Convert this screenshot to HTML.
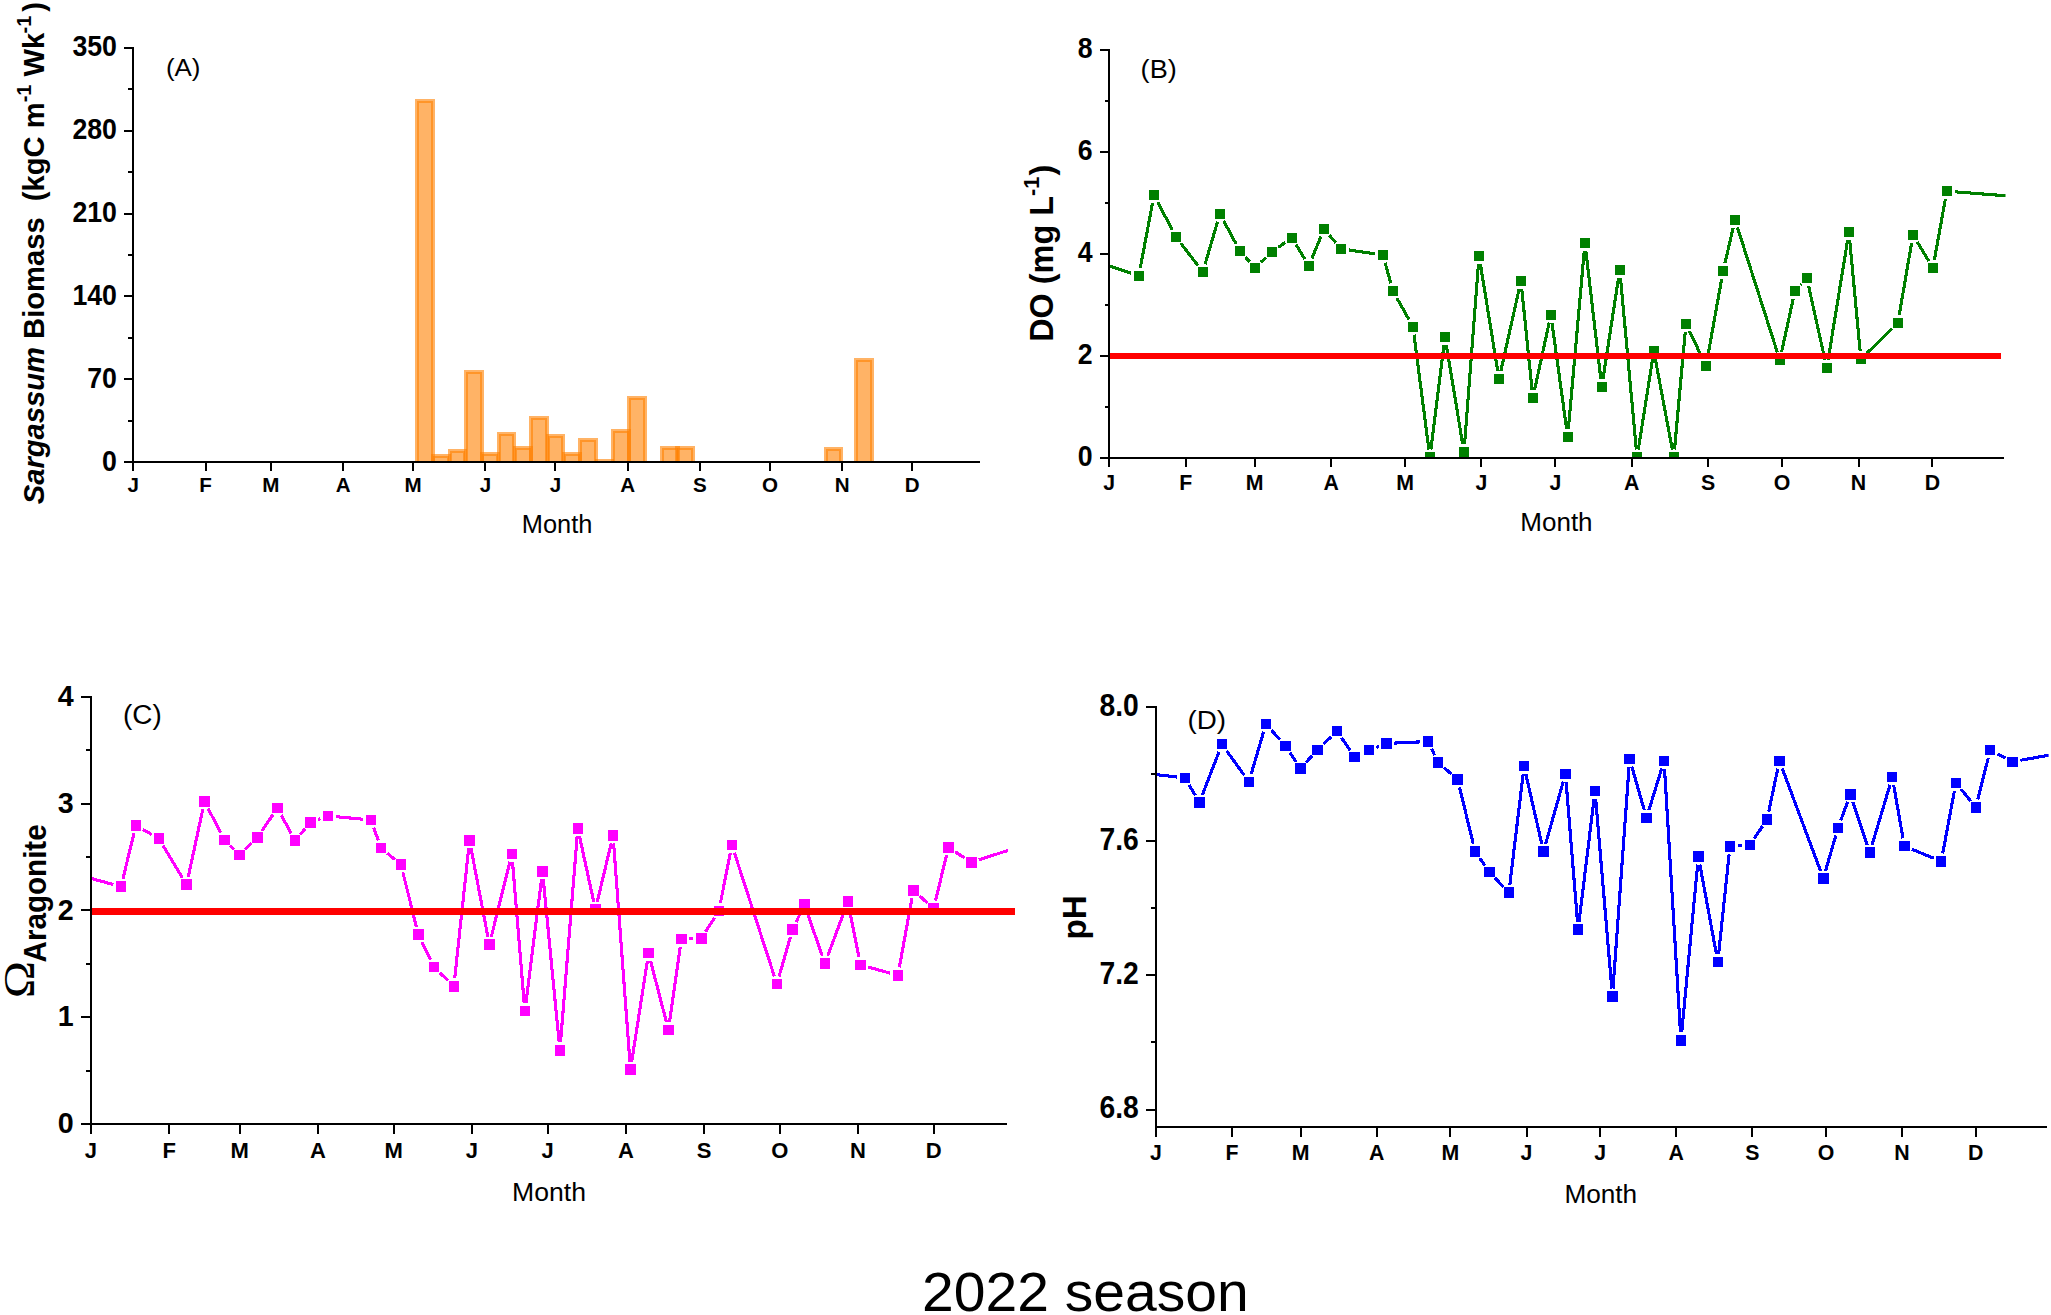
<!DOCTYPE html>
<html lang="en"><head><meta charset="utf-8"><title>2022 season</title>
<style>html,body{margin:0;padding:0;background:#fff}body{width:2051px;height:1315px;overflow:hidden}svg{display:block}</style>
</head><body>
<svg width="2051" height="1315" viewBox="0 0 2051 1315" role="img" aria-label="2022 season: Sargassum biomass, dissolved oxygen, aragonite saturation and pH by month">
<rect width="2051" height="1315" fill="#fff"/>
<clipPath id="ca"><rect x="133" y="40" width="860" height="422"/></clipPath>
<g clip-path="url(#ca)" fill="rgb(255,128,0)" fill-opacity="0.6" stroke="rgb(255,128,0)" stroke-opacity="0.6" stroke-width="4" shape-rendering="crispEdges">
<rect x="417" y="101" width="15.7" height="369"/>
<rect x="433.33" y="456.4" width="15.7" height="13.6"/>
<rect x="449.66" y="451.2" width="15.7" height="18.8"/>
<rect x="465.99" y="372.4" width="15.7" height="97.6"/>
<rect x="482.32" y="454.1" width="15.7" height="15.9"/>
<rect x="498.65" y="434.3" width="15.7" height="35.7"/>
<rect x="514.98" y="447.8" width="15.7" height="22.2"/>
<rect x="531.31" y="418.4" width="15.7" height="51.6"/>
<rect x="547.64" y="435.6" width="15.7" height="34.4"/>
<rect x="563.97" y="454.3" width="15.7" height="15.7"/>
<rect x="580.3" y="439.5" width="15.7" height="30.5"/>
<rect x="596.63" y="460.6" width="15.7" height="9.4"/>
<rect x="612.96" y="430.5" width="15.7" height="39.5"/>
<rect x="629.29" y="398.2" width="15.7" height="71.8"/>
<rect x="661.95" y="448.4" width="15.7" height="21.6"/>
<rect x="677.05" y="448.4" width="15.7" height="21.6"/>
<rect x="825.65" y="449.2" width="15.7" height="20.8"/>
<rect x="856.05" y="360.4" width="15.7" height="109.6"/>
</g>
<g stroke="#000" stroke-width="2" fill="none" shape-rendering="crispEdges"><path d="M133 46.9 V463" /><path d="M133 462 H980" /><path d="M123.7 462 H133" /><path d="M123.7 379.18 H133" /><path d="M123.7 296.36 H133" /><path d="M123.7 213.54 H133" /><path d="M123.7 130.72 H133" /><path d="M123.7 47.9 H133" /><path d="M128.4 420.59 H133" /><path d="M128.4 337.77 H133" /><path d="M128.4 254.95 H133" /><path d="M128.4 172.13 H133" /><path d="M128.4 89.31 H133" /><path d="M133.34 462 V471.4" /><path d="M205.63 462 V471.4" /><path d="M270.92 462 V471.4" /><path d="M343.2 462 V471.4" /><path d="M413.16 462 V471.4" /><path d="M485.44 462 V471.4" /><path d="M555.4 462 V471.4" /><path d="M627.68 462 V471.4" /><path d="M699.97 462 V471.4" /><path d="M769.92 462 V471.4" /><path d="M842.21 462 V471.4" /><path d="M912.16 462 V471.4" /></g>
<g font-family="'Liberation Sans', sans-serif" font-weight="bold" font-size="26.7" text-anchor="end" fill="#000"><text transform="translate(116.9 470.57) scale(1 1.090)">0</text><text transform="translate(116.9 387.75) scale(1 1.090)">70</text><text transform="translate(116.9 304.93) scale(1 1.090)">140</text><text transform="translate(116.9 222.11) scale(1 1.090)">210</text><text transform="translate(116.9 139.29) scale(1 1.090)">280</text><text transform="translate(116.9 56.47) scale(1 1.090)">350</text></g>
<g font-family="'Liberation Sans', sans-serif" font-weight="bold" font-size="20.6" text-anchor="middle" fill="#000"><text x="133.34" y="492.3">J</text><text x="205.63" y="492.3">F</text><text x="270.92" y="492.3">M</text><text x="343.2" y="492.3">A</text><text x="413.16" y="492.3">M</text><text x="485.44" y="492.3">J</text><text x="555.4" y="492.3">J</text><text x="627.68" y="492.3">A</text><text x="699.97" y="492.3">S</text><text x="769.92" y="492.3">O</text><text x="842.21" y="492.3">N</text><text x="912.16" y="492.3">D</text></g>
<text transform="translate(165.9 75.85) scale(1.0550 1)" font-family="'Liberation Sans', sans-serif" font-size="24.6" font-weight="normal" text-anchor="start" fill="#000">(A)</text>
<text x="557.1" y="532.6" font-family="'Liberation Sans', sans-serif" font-size="25.4" font-weight="normal" text-anchor="middle" fill="#000">Month</text>
<text transform="translate(43.65 253.1) rotate(-90) scale(0.9790 1)" font-family="'Liberation Sans', sans-serif" font-size="29.8" font-weight="bold" text-anchor="middle" fill="#000"><tspan font-style="italic">Sargassum</tspan> Biomass&#160;&#160;(kgC m<tspan font-size="20.5" dy="-12.4">-1</tspan><tspan dy="12.4"> Wk</tspan><tspan font-size="20.5" dy="-12.4" dx="-0.8">-1</tspan><tspan dy="12.4" dx="4">)</tspan></text>
<clipPath id="cb"><rect x="1109" y="40" width="896.5" height="418"/></clipPath>
<g clip-path="url(#cb)">
<path d="M1109 265.8L1131.21 273.29M1140.28 267.99L1152.58 202.79M1157.75 202.03L1172.15 229.78M1180.73 243.21L1197.96 265.48M1205.12 264.14L1217.63 221.56M1223.69 220.93L1236.09 243.89M1245.23 256.88L1249.65 261.82M1260.83 262.3L1266 257.45M1278.36 247.34L1285.33 242.39M1296 244.6L1304.73 259M1311.91 258.44L1320.94 236.39M1329.18 235.05L1335.78 242.75M1348.91 249.98L1375.03 253.8M1385.09 262.67L1390.8 283.23M1396.85 297.93L1409.05 319.77M1413.99 334.68L1428.87 449.51M1430.89 449.51L1444 344.9M1446.29 344.85L1462.67 444.2M1464.59 444.12L1478.45 263.88M1480.35 263.8L1497.75 371.17M1500.77 371.26L1519.19 288.78M1521.75 288.93L1532.05 389.85M1534.56 389.99L1549.18 322.63M1551.97 322.73L1566.58 428.83M1568.38 428.79L1584.24 250.97M1585.88 250.95L1600.82 378.91M1602.97 378.95L1618.54 277.93M1620.49 277.99L1636.31 449.48M1638.29 449.54L1652.59 358.98M1655.31 358.94L1672.32 449.58M1674.52 449.48L1685.24 331.78M1689.41 331.03L1702.62 358.71M1707.48 358.05L1721.69 278.87M1724.92 263.2L1733.21 227.67M1737.47 227.5L1777.38 352.46M1781.52 352.27L1793.2 298.77M1800.34 285.08L1801.41 283.93M1808.57 285.86L1825.07 360.31M1828.08 360.22L1847.66 239.95M1849.69 240.01L1860.13 351.14M1866.61 353.53L1892.14 328.67M1899.22 315.2L1911.61 242.86M1917.12 241.81L1928.77 260.99M1934.35 259.96L1945.37 199.03M1954.77 191.78L2006 195.8" stroke="#008000" stroke-width="3.1" fill="none" shape-rendering="crispEdges"/>
<path d="M1133.79 270.85h10v10h-10zM1149.06 189.93h10v10h-10zM1170.83 231.88h10v10h-10zM1197.86 266.81h10v10h-10zM1214.88 208.89h10v10h-10zM1234.89 245.92h10v10h-10zM1249.99 262.77h10v10h-10zM1266.84 246.98h10v10h-10zM1286.85 232.76h10v10h-10zM1303.87 260.84h10v10h-10zM1318.97 223.98h10v10h-10zM1335.99 243.82h10v10h-10zM1377.94 249.96h10v10h-10zM1387.95 285.94h10v10h-10zM1407.96 321.75h10v10h-10zM1424.9 452.45h10v10h-10zM1439.99 331.96h10v10h-10zM1458.98 447.09h10v10h-10zM1474.07 250.9h10v10h-10zM1494.03 374.07h10v10h-10zM1515.93 275.97h10v10h-10zM1527.86 392.81h10v10h-10zM1545.87 309.81h10v10h-10zM1562.67 431.76h10v10h-10zM1579.95 238h10v10h-10zM1596.75 381.86h10v10h-10zM1614.76 265.02h10v10h-10zM1632.04 452.45h10v10h-10zM1648.84 346.08h10v10h-10zM1668.8 452.45h10v10h-10zM1680.97 318.81h10v10h-10zM1701.07 360.92h10v10h-10zM1718.1 265.99h10v10h-10zM1730.03 214.88h10v10h-10zM1774.82 355.08h10v10h-10zM1789.91 285.95h10v10h-10zM1801.84 273.05h10v10h-10zM1821.8 363.12h10v10h-10zM1843.95 227.05h10v10h-10zM1855.87 354.11h10v10h-10zM1892.87 318.08h10v10h-10zM1907.96 229.97h10v10h-10zM1927.92 262.83h10v10h-10zM1941.8 186.16h10v10h-10z" fill="#008000" shape-rendering="crispEdges"/>
</g>
<rect x="1109" y="352.8" width="892" height="6.2" fill="#ff0000" shape-rendering="crispEdges"/>
<g stroke="#000" stroke-width="2" fill="none" shape-rendering="crispEdges"><path d="M1109 48.96 V459" /><path d="M1099.9 458 H2004" /><path d="M1099.9 458 H1109" /><path d="M1099.9 355.99 H1109" /><path d="M1099.9 253.98 H1109" /><path d="M1099.9 151.97 H1109" /><path d="M1099.9 49.96 H1109" /><path d="M1104.7 407 H1109" /><path d="M1104.7 304.99 H1109" /><path d="M1104.7 202.97 H1109" /><path d="M1104.7 100.96 H1109" /><path d="M1109.28 458 V466.9" /><path d="M1185.69 458 V466.9" /><path d="M1254.7 458 V466.9" /><path d="M1331.1 458 V466.9" /><path d="M1405.04 458 V466.9" /><path d="M1481.45 458 V466.9" /><path d="M1555.39 458 V466.9" /><path d="M1631.8 458 V466.9" /><path d="M1708.2 458 V466.9" /><path d="M1782.14 458 V466.9" /><path d="M1858.55 458 V466.9" /><path d="M1932.49 458 V466.9" /></g>
<g font-family="'Liberation Sans', sans-serif" font-weight="bold" font-size="26.7" text-anchor="end" fill="#000"><text transform="translate(1092.7 466.3) scale(1 1.090)">0</text><text transform="translate(1092.7 364.29) scale(1 1.090)">2</text><text transform="translate(1092.7 262.28) scale(1 1.090)">4</text><text transform="translate(1092.7 160.27) scale(1 1.090)">6</text><text transform="translate(1092.7 58.26) scale(1 1.090)">8</text></g>
<g font-family="'Liberation Sans', sans-serif" font-weight="bold" font-size="21.3" text-anchor="middle" fill="#000"><text x="1109.28" y="489.6">J</text><text x="1185.69" y="489.6">F</text><text x="1254.7" y="489.6">M</text><text x="1331.1" y="489.6">A</text><text x="1405.04" y="489.6">M</text><text x="1481.45" y="489.6">J</text><text x="1555.39" y="489.6">J</text><text x="1631.8" y="489.6">A</text><text x="1708.2" y="489.6">S</text><text x="1782.14" y="489.6">O</text><text x="1858.55" y="489.6">N</text><text x="1932.49" y="489.6">D</text></g>
<text transform="translate(1140.6 77.65) scale(1.0350 1)" font-family="'Liberation Sans', sans-serif" font-size="26.2" font-weight="normal" text-anchor="start" fill="#000">(B)</text>
<text x="1556.45" y="530.75" font-family="'Liberation Sans', sans-serif" font-size="26" font-weight="normal" text-anchor="middle" fill="#000">Month</text>
<text transform="translate(1053.05 253.3) rotate(-90) scale(0.9830 1)" font-family="'Liberation Sans', sans-serif" font-size="33" font-weight="bold" text-anchor="middle" fill="#000">DO (mg L<tspan font-size="22" dy="-14.3">-1</tspan><tspan dy="14.3" dx="1.2">)</tspan></text>
<clipPath id="cc"><rect x="91" y="680" width="917" height="443.9"/></clipPath>
<g clip-path="url(#cc)">
<path d="M91 878.42L113.28 884.51M122.89 878.85L133.99 833.32M142.86 829.47L151.83 834.51M162.93 845.29L182.46 877.76M188.27 876.79L202.8 809.28M208.16 808.56L220.72 832.83M230.05 845.6L233.8 849.34M245.17 849.4L251.65 843.03M261.88 830.83L272.91 814.75M281.26 815.18L291.18 833.41M300.25 834.4L305.32 828.58M318.02 819.64L320.34 818.74M335.76 816.62L363.01 819.26M373.67 827.56L378.3 840.44M387.16 853.09L394.77 859.42M402.85 872.3L416.44 926.96M421.84 941.92L430.54 959.93M439.77 972.69L448.11 980.75M454.72 978.36L468.67 848.3M471.01 848.21L487.87 936.78M491.29 936.88L509.93 861.78M512.51 861.99L524.2 1003.26M525.86 1003.29L541.5 879.38M543.28 879.4L559.14 1042.29M560.56 1042.28L577.14 836.42M579.48 836.26L593.72 901.77M597.27 901.8L611.2 843.28M613.65 843.48L629.88 1061.68M631.7 1061.75L647.33 961.15M650.57 960.98L666.39 1022.01M669.54 1021.83L680.27 947.05M689.41 938.86L693.26 938.73M705.56 931.73L714.57 917.65M720.43 903.06L730.34 852.83M734.35 852.59L774.41 976.5M779.07 976.42L790.33 937.12M796 922.22L800.96 911.94M807.07 912.28L822.3 955.83M827.73 955.88L845.09 909.15M849.43 909.49L858.88 957.08M868.15 967.06L890.21 973.16M899.35 967.42L911.93 898.27M919.33 895.72L927.67 903.16M935.52 900.71L946.53 855.18M955.11 851.78L964.65 858.02M978.95 859.91L1008 850.4" stroke="#ff00ff" stroke-width="3.1" fill="none" shape-rendering="crispEdges"/>
<path d="M115.74 881.37h10.5v10.5h-10.5zM130.63 820.3h10.5v10.5h-10.5zM153.56 833.18h10.5v10.5h-10.5zM181.33 879.36h10.5v10.5h-10.5zM199.24 796.21h10.5v10.5h-10.5zM219.15 834.69h10.5v10.5h-10.5zM234.21 849.75h10.5v10.5h-10.5zM252.11 832.18h10.5v10.5h-10.5zM272.19 802.9h10.5v10.5h-10.5zM289.76 835.19h10.5v10.5h-10.5zM305.32 817.29h10.5v10.5h-10.5zM322.55 810.6h10.5v10.5h-10.5zM365.72 814.78h10.5v10.5h-10.5zM375.76 842.72h10.5v10.5h-10.5zM395.67 859.29h10.5v10.5h-10.5zM413.12 929.47h10.5v10.5h-10.5zM428.77 961.88h10.5v10.5h-10.5zM448.61 981.06h10.5v10.5h-10.5zM464.27 835.1h10.5v10.5h-10.5zM484.11 939.39h10.5v10.5h-10.5zM506.6 848.77h10.5v10.5h-10.5zM519.61 1005.98h10.5v10.5h-10.5zM537.25 866.19h10.5v10.5h-10.5zM554.67 1045.01h10.5v10.5h-10.5zM572.53 823.19h10.5v10.5h-10.5zM590.17 904.33h10.5v10.5h-10.5zM607.81 830.25h10.5v10.5h-10.5zM625.23 1064.41h10.5v10.5h-10.5zM643.31 947.99h10.5v10.5h-10.5zM663.15 1024.5h10.5v10.5h-10.5zM676.16 933.88h10.5v10.5h-10.5zM696 933.22h10.5v10.5h-10.5zM713.63 905.66h10.5v10.5h-10.5zM726.64 839.73h10.5v10.5h-10.5zM771.62 978.86h10.5v10.5h-10.5zM787.28 924.18h10.5v10.5h-10.5zM799.18 899.48h10.5v10.5h-10.5zM819.69 958.13h10.5v10.5h-10.5zM842.62 896.4h10.5v10.5h-10.5zM855.19 959.68h10.5v10.5h-10.5zM892.67 970.04h10.5v10.5h-10.5zM908.11 885.15h10.5v10.5h-10.5zM928.39 903.23h10.5v10.5h-10.5zM943.16 842.16h10.5v10.5h-10.5zM966.1 857.15h10.5v10.5h-10.5z" fill="#ff00ff" shape-rendering="crispEdges"/>
</g>
<rect x="91" y="908.1" width="924" height="6.6" fill="#ff0000" shape-rendering="crispEdges"/>
<g stroke="#000" stroke-width="2" fill="none" shape-rendering="crispEdges"><path d="M91 696.08 V1124.9" /><path d="M81.1 1123.9 H1006.8" /><path d="M81.1 1123.9 H91" /><path d="M81.1 1017.2 H91" /><path d="M81.1 910.49 H91" /><path d="M81.1 803.79 H91" /><path d="M81.1 697.08 H91" /><path d="M86.1 1070.55 H91" /><path d="M86.1 963.84 H91" /><path d="M86.1 857.14 H91" /><path d="M86.1 750.43 H91" /><path d="M90.9 1123.9 V1133.9" /><path d="M169.13 1123.9 V1133.9" /><path d="M239.78 1123.9 V1133.9" /><path d="M318.01 1123.9 V1133.9" /><path d="M393.71 1123.9 V1133.9" /><path d="M471.93 1123.9 V1133.9" /><path d="M547.64 1123.9 V1133.9" /><path d="M625.86 1123.9 V1133.9" /><path d="M704.09 1123.9 V1133.9" /><path d="M779.79 1123.9 V1133.9" /><path d="M858.01 1123.9 V1133.9" /><path d="M933.72 1123.9 V1133.9" /></g>
<g font-family="'Liberation Sans', sans-serif" font-weight="bold" font-size="28.7" text-anchor="end" fill="#000"><text transform="translate(73.7 1133.1) scale(1 1.045)">0</text><text transform="translate(73.7 1026.39) scale(1 1.045)">1</text><text transform="translate(73.7 919.69) scale(1 1.045)">2</text><text transform="translate(73.7 812.99) scale(1 1.045)">3</text><text transform="translate(73.7 706.28) scale(1 1.045)">4</text></g>
<g font-family="'Liberation Sans', sans-serif" font-weight="bold" font-size="22" text-anchor="middle" fill="#000"><text x="90.9" y="1157.75">J</text><text x="169.13" y="1157.75">F</text><text x="239.78" y="1157.75">M</text><text x="318.01" y="1157.75">A</text><text x="393.71" y="1157.75">M</text><text x="471.93" y="1157.75">J</text><text x="547.64" y="1157.75">J</text><text x="625.86" y="1157.75">A</text><text x="704.09" y="1157.75">S</text><text x="779.79" y="1157.75">O</text><text x="858.01" y="1157.75">N</text><text x="933.72" y="1157.75">D</text></g>
<text transform="translate(123 724.3) scale(1.0400 1)" font-family="'Liberation Sans', sans-serif" font-size="26.8" font-weight="normal" text-anchor="start" fill="#000">(C)</text>
<text x="549.05" y="1200.55" font-family="'Liberation Sans', sans-serif" font-size="26.6" font-weight="normal" text-anchor="middle" fill="#000">Month</text>
<text transform="translate(33.95 998.3) rotate(-90) scale(1.12 1)" font-family="'Liberation Serif', serif" font-size="45" fill="#000">&#937;</text>
<text transform="translate(45.85 962.4) rotate(-90) scale(1 1.065)" font-family="'Liberation Sans', sans-serif" font-weight="bold" font-size="29.6" fill="#000">Aragonite</text>
<clipPath id="cd"><rect x="1155.9" y="690" width="892.7" height="436.9"/></clipPath>
<g clip-path="url(#cd)">
<path d="M1155.9 774.6L1176.99 777.05M1189.02 784.85L1195.37 795.58M1202.33 795L1219.03 751.74M1226.59 750.76L1244.22 775.22M1251.16 774.04L1263.64 731.67M1271.23 729.96L1280.08 739.86M1289.85 752.48L1296.09 761.8M1305.91 762.53L1312.16 755.65M1323.33 744.22L1331.25 736.68M1341.53 737.79L1350.02 750.29M1376.45 747.34L1378.98 746.37M1394.43 743.1L1420.11 741.89M1431.52 748.74L1434.53 755.1M1443.98 767.59L1451.62 774.25M1459.53 787.28L1473.22 843.78M1479.68 858.12L1484.87 865.55M1494.95 877.92L1503.38 886.84M1509.83 884.71L1523.12 774.22M1525.85 774.08L1541.72 843.76M1545.67 843.86L1563.27 781.57M1566.1 781.85L1577.47 921.55M1579.08 921.58L1594.03 798.99M1595.68 799.02L1611.78 988.54M1613.03 988.53L1629.05 766.94M1631.83 766.65L1644.3 810.09M1648.87 810.14L1661.71 768.56M1664.55 768.9L1680.47 1032.36M1681.71 1032.38L1697.64 864.55M1699.85 864.46L1716.37 953.97M1718.65 953.88L1729.08 854.41M1737.9 845.9L1741.92 845.61M1754.35 838.41L1762.61 826.09M1768.72 811.62L1777.79 768.74M1782.24 768.41L1820.55 871.04M1825.56 870.85L1835.75 835.57M1840.75 820.38L1847.58 801.9M1852.89 801.99L1867.24 845.06M1872.06 844.98L1890 784.9M1893.67 785.11L1903 838.3M1911.78 849.23L1933.85 858.32M1942.71 853.51L1954.42 790.73M1960.94 789.06L1970.8 801.15M1977.81 799.58L1988.26 757.98M1997.31 753.9L2005.34 758.07M2020.31 760.33L2053 754.4" stroke="#0000ff" stroke-width="3.1" fill="none" shape-rendering="crispEdges"/>
<path d="M1179.74 772.77h10.4v10.4h-10.4zM1194.25 797.26h10.4v10.4h-10.4zM1216.71 739.07h10.4v10.4h-10.4zM1243.7 776.51h10.4v10.4h-10.4zM1260.7 718.79h10.4v10.4h-10.4zM1280.2 740.63h10.4v10.4h-10.4zM1295.34 763.25h10.4v10.4h-10.4zM1312.34 744.53h10.4v10.4h-10.4zM1331.84 725.97h10.4v10.4h-10.4zM1349.31 751.71h10.4v10.4h-10.4zM1363.79 745.03h10.4v10.4h-10.4zM1381.24 738.28h10.4v10.4h-10.4zM1422.9 736.31h10.4v10.4h-10.4zM1432.75 757.14h10.4v10.4h-10.4zM1452.45 774.3h10.4v10.4h-10.4zM1469.9 846.36h10.4v10.4h-10.4zM1484.26 866.9h10.4v10.4h-10.4zM1503.68 887.45h10.4v10.4h-10.4zM1518.87 761.08h10.4v10.4h-10.4zM1538.3 846.36h10.4v10.4h-10.4zM1560.25 768.68h10.4v10.4h-10.4zM1572.92 924.32h10.4v10.4h-10.4zM1589.8 785.84h10.4v10.4h-10.4zM1607.25 991.31h10.4v10.4h-10.4zM1624.42 753.76h10.4v10.4h-10.4zM1641.31 812.58h10.4v10.4h-10.4zM1658.87 755.71h10.4v10.4h-10.4zM1675.75 1035.14h10.4v10.4h-10.4zM1693.2 851.39h10.4v10.4h-10.4zM1712.62 956.63h10.4v10.4h-10.4zM1724.72 841.26h10.4v10.4h-10.4zM1744.7 839.85h10.4v10.4h-10.4zM1761.86 814.24h10.4v10.4h-10.4zM1774.24 755.71h10.4v10.4h-10.4zM1818.14 873.34h10.4v10.4h-10.4zM1832.78 822.69h10.4v10.4h-10.4zM1845.16 789.2h10.4v10.4h-10.4zM1864.57 847.45h10.4v10.4h-10.4zM1887.09 772.03h10.4v10.4h-10.4zM1899.19 840.98h10.4v10.4h-10.4zM1936.05 856.17h10.4v10.4h-10.4zM1950.68 777.66h10.4v10.4h-10.4zM1970.66 802.14h10.4v10.4h-10.4zM1985.01 745.02h10.4v10.4h-10.4zM2007.24 756.56h10.4v10.4h-10.4z" fill="#0000ff" shape-rendering="crispEdges"/>
</g>
<g stroke="#000" stroke-width="2" fill="none" shape-rendering="crispEdges"><path d="M1155.9 705.9 V1127.9" /><path d="M1155.9 1126.9 H2046.9" /><path d="M1146 706.9 H1155.9" /><path d="M1146 841.1 H1155.9" /><path d="M1146 975.3 H1155.9" /><path d="M1146 1109.5 H1155.9" /><path d="M1151.1 774 H1155.9" /><path d="M1151.1 908.2 H1155.9" /><path d="M1151.1 1042.4 H1155.9" /><path d="M1155.9 1126.9 V1137" /><path d="M1231.99 1126.9 V1137" /><path d="M1300.72 1126.9 V1137" /><path d="M1376.81 1126.9 V1137" /><path d="M1450.44 1126.9 V1137" /><path d="M1526.53 1126.9 V1137" /><path d="M1600.16 1126.9 V1137" /><path d="M1676.25 1126.9 V1137" /><path d="M1752.34 1126.9 V1137" /><path d="M1825.98 1126.9 V1137" /><path d="M1902.07 1126.9 V1137" /><path d="M1975.7 1126.9 V1137" /></g>
<g font-family="'Liberation Sans', sans-serif" font-weight="bold" font-size="28.3" text-anchor="end" fill="#000"><text transform="translate(1138.8 715.7) scale(1 1.085)">8.0</text><text transform="translate(1138.8 849.9) scale(1 1.085)">7.6</text><text transform="translate(1138.8 984.1) scale(1 1.085)">7.2</text><text transform="translate(1138.8 1118.3) scale(1 1.085)">6.8</text></g>
<g font-family="'Liberation Sans', sans-serif" font-weight="bold" font-size="21.3" text-anchor="middle" fill="#000"><text x="1155.9" y="1159.7">J</text><text x="1231.99" y="1159.7">F</text><text x="1300.72" y="1159.7">M</text><text x="1376.81" y="1159.7">A</text><text x="1450.44" y="1159.7">M</text><text x="1526.53" y="1159.7">J</text><text x="1600.16" y="1159.7">J</text><text x="1676.25" y="1159.7">A</text><text x="1752.34" y="1159.7">S</text><text x="1825.98" y="1159.7">O</text><text x="1902.07" y="1159.7">N</text><text x="1975.7" y="1159.7">D</text></g>
<text transform="translate(1187.4 728.5) scale(1.0700 1)" font-family="'Liberation Sans', sans-serif" font-size="26" font-weight="normal" text-anchor="start" fill="#000">(D)</text>
<text x="1600.8" y="1202.75" font-family="'Liberation Sans', sans-serif" font-size="26.2" font-weight="normal" text-anchor="middle" fill="#000">Month</text>
<text transform="translate(1085.95 917.3) rotate(-90) scale(1.0000 1)" font-family="'Liberation Sans', sans-serif" font-size="33.2" font-weight="bold" text-anchor="middle" fill="#000">pH</text>
<text transform="translate(1085.35 1311.05) scale(1.045 1)" font-family="'Liberation Sans', sans-serif" font-size="54.6" text-anchor="middle" fill="#000">2022 season</text>
</svg></body></html>
